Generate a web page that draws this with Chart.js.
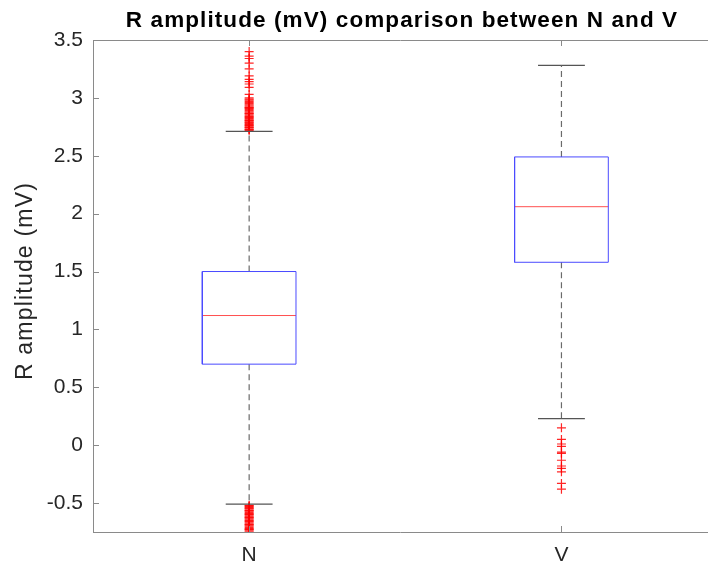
<!DOCTYPE html>
<html>
<head>
<meta charset="utf-8">
<script src="https://cdn.jsdelivr.net/npm/chart.js@4.4.0/dist/chart.umd.min.js"></script>
<style>
  html, body { margin: 0; padding: 0; background: #fff; overflow: hidden; }
</style>
</head>
<body>
<canvas id="boxChart" width="708" height="565"></canvas>
<script>
// R amplitude (mV) box plot, N vs V beats
const categories = ['N', 'V'];
const q1 = [0.70, 1.58];
const median = [1.12, 2.06];
const q3 = [1.50, 2.49];
const whiskerLow = [-0.51, 0.23];
const whiskerHigh = [2.71, 3.28];
const yTicks = [-0.5, 0, 0.5, 1, 1.5, 2, 2.5, 3, 3.5];

// outliers
const outliersN = [
  2.72, 2.725, 2.73, 2.74, 2.745, 2.75, 2.76, 2.765, 2.77, 2.78, 2.785, 2.79,
  2.80, 2.805, 2.81, 2.82, 2.83, 2.835, 2.84, 2.85, 2.86, 2.865, 2.87, 2.88,
  2.89, 2.90, 2.91, 2.915, 2.92, 2.93, 2.94, 2.95, 2.96, 2.97, 2.98, 2.99, 3.00,
  3.03, 3.09, 3.12, 3.14, 3.16, 3.19, 3.25, 3.30, 3.34, 3.36, 3.40,
  -0.52, -0.525, -0.53, -0.54, -0.545, -0.55, -0.56, -0.565, -0.57, -0.58,
  -0.59, -0.595, -0.60, -0.61, -0.62, -0.625, -0.63, -0.64, -0.65, -0.655,
  -0.66, -0.67, -0.68, -0.685, -0.69, -0.70, -0.71, -0.72, -0.725, -0.73,
  -0.74, -0.75, -0.76
];
const outliersV = [0.15, 0.05, 0.01, -0.01, -0.06, -0.07, -0.13, -0.18, -0.20, -0.23, -0.33, -0.38];

const boxHalf = 0.15;
const capHalf = 0.075;
const outliers = [outliersN, outliersV];

const datasets = [];
categories.forEach((c, i) => {
  const x = i + 1;
  // box
  datasets.push({
    data: [
      {x: x - boxHalf, y: q1[i]}, {x: x + boxHalf, y: q1[i]},
      {x: x + boxHalf, y: q3[i]}, {x: x - boxHalf, y: q3[i]},
      {x: x - boxHalf, y: q1[i]}
    ],
    showLine: true, borderColor: '#4a4aff', borderWidth: 1, pointRadius: 0
  });
  // median
  datasets.push({
    data: [{x: x - boxHalf, y: median[i]}, {x: x + boxHalf, y: median[i]}],
    showLine: true, borderColor: '#ff5050', borderWidth: 1, pointRadius: 0
  });
  // whiskers (dashed)
  datasets.push({
    data: [{x: x, y: q3[i]}, {x: x, y: whiskerHigh[i]}],
    showLine: true, borderColor: '#6a6a6a', borderWidth: 1.2, borderDash: [6, 4], pointRadius: 0
  });
  datasets.push({
    data: [{x: x, y: q1[i]}, {x: x, y: whiskerLow[i]}],
    showLine: true, borderColor: '#6a6a6a', borderWidth: 1.2, borderDash: [6, 4], pointRadius: 0
  });
  // caps
  datasets.push({
    data: [{x: x - capHalf, y: whiskerHigh[i]}, {x: x + capHalf, y: whiskerHigh[i]}],
    showLine: true, borderColor: '#555', borderWidth: 1.2, pointRadius: 0
  });
  datasets.push({
    data: [{x: x - capHalf, y: whiskerLow[i]}, {x: x + capHalf, y: whiskerLow[i]}],
    showLine: true, borderColor: '#555', borderWidth: 1.2, pointRadius: 0
  });
  // outliers
  datasets.push({
    data: outliers[i].map(v => ({x: x, y: v})),
    showLine: false, pointStyle: 'cross', pointRadius: 4.5,
    borderColor: 'rgba(255,0,0,0.85)', borderWidth: 1.2, backgroundColor: 'rgba(0,0,0,0)'
  });
});

const titleText = 'R amplitude (mV) comparison between N and V';
const yTitleText = 'R amplitude (mV)';
const axisColor = '#8a8a8a';
const fontFamily = '"Liberation Sans", Arial, Helvetica, sans-serif';

// top and bottom frame lines run out to the page edge, inward ticks, titles
const framePlugin = {
  id: 'frame',
  afterDraw(chart) {
    const {ctx, chartArea: a, scales} = chart;
    ctx.save();
    ctx.strokeStyle = axisColor;
    ctx.lineWidth = 1;
    ctx.beginPath();
    ctx.moveTo(a.left, a.top + 0.5);
    ctx.lineTo(chart.width, a.top + 0.5);
    ctx.moveTo(a.left, a.bottom + 0.5);
    ctx.lineTo(chart.width, a.bottom + 0.5);
    yTicks.forEach(v => {
      const y = Math.round(scales.y.getPixelForValue(v)) + 0.5;
      ctx.moveTo(a.left, y);
      ctx.lineTo(a.left + 6, y);
    });
    categories.forEach((c, i) => {
      const x = Math.round(scales.x.getPixelForValue(i + 1)) + 0.5;
      ctx.moveTo(x, a.bottom);
      ctx.lineTo(x, a.bottom - 6);
      ctx.moveTo(x, a.top);
      ctx.lineTo(x, a.top + 6);
    });
    ctx.stroke();

    ctx.fillStyle = '#000';
    ctx.font = 'bold 22.5px ' + fontFamily;
    ctx.letterSpacing = '1.1px';
    ctx.textAlign = 'center';
    ctx.textBaseline = 'middle';
    ctx.fillText(titleText, 402, 21);

    ctx.fillStyle = '#262626';
    ctx.font = '23px ' + fontFamily;
    ctx.letterSpacing = '1.2px';
    ctx.translate(26, 281);
    ctx.rotate(-Math.PI / 2);
    ctx.fillText(yTitleText, 0, 0);
    ctx.restore();
  }
};

new Chart(document.getElementById('boxChart'), {
  type: 'scatter',
  data: {datasets: datasets},
  options: {
    responsive: false,
    animation: false,
    layout: {padding: {top: 40, right: 0, left: 0, bottom: 0}},
    plugins: {legend: {display: false}, tooltip: {enabled: false}},
    scales: {
      x: {
        // the original axis runs 0.5..2.5 and is cut off on the right
        type: 'linear', min: 0.5, max: 2.451,
        afterBuildTicks: s => { s.ticks = categories.map((c, i) => ({value: i + 1})); },
        afterFit: s => { s.height = 33; },
        ticks: {
          callback: v => categories[v - 1], color: '#262626', padding: 11,
          font: {size: 21, family: fontFamily}, maxRotation: 0
        },
        grid: {display: false, drawTicks: false},
        border: {display: false}
      },
      y: {
        min: -0.75, max: 3.5,
        afterBuildTicks: s => { s.ticks = yTicks.map(v => ({value: v})); },
        afterFit: s => { s.width = 93; },
        ticks: {
          callback: v => String(v), color: '#262626', padding: 10,
          font: {size: 21, family: fontFamily}
        },
        grid: {display: false, drawTicks: false},
        border: {display: true, color: axisColor, width: 1}
      }
    }
  },
  plugins: [framePlugin]
});
</script>
</body>
</html>
